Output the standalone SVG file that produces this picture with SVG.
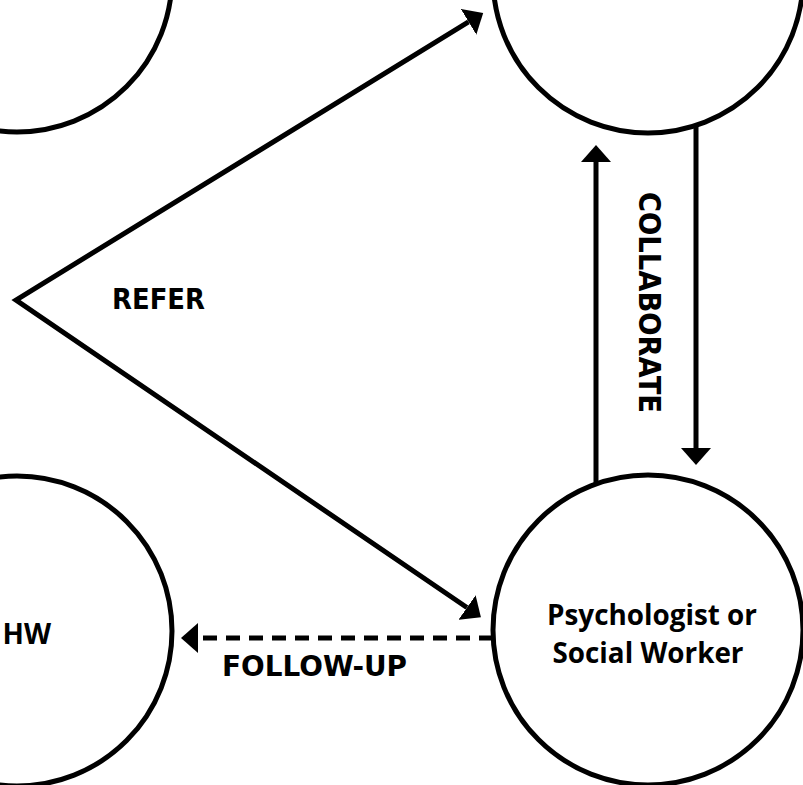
<svg xmlns="http://www.w3.org/2000/svg" width="803" height="785" viewBox="0 0 803 785">
<style>
.node{fill:#fff;stroke:#000;stroke-width:5}
.edge{fill:none;stroke:#000;stroke-width:5}
.dash{stroke-dasharray:14 9}
.lbl{font-family:"DejaVu Sans",sans-serif;font-weight:bold;font-size:28px;fill:#000}
.ntxt{font-family:"Open Sans","Liberation Sans",sans-serif;font-weight:bold;font-size:28px;fill:#000;text-anchor:middle}
</style>
<defs>
<marker id="ah" markerUnits="userSpaceOnUse" markerWidth="18" markerHeight="30" refX="0" refY="15" orient="auto" viewBox="0 0 18 30">
<path d="M0,0 L17,15 L0,30 Z" fill="#000"/>
</marker>
</defs>
<rect width="803" height="785" fill="#fff"/>
<g id="node-top-left"><circle class="node" cx="17" cy="-23" r="155"/></g>
<g id="node-top-right"><circle class="node" cx="648" cy="-22" r="155"/></g>
<g id="node-bottom-left"><circle class="node" cx="17" cy="631" r="155"/>
<text class="ntxt" x="51" y="644" style="text-anchor:end">HW</text></g>
<g id="node-bottom-right"><circle class="node" cx="648" cy="630" r="155"/>
<text class="ntxt" x="652" y="625" textLength="210" lengthAdjust="spacingAndGlyphs">Psychologist or</text>
<text class="ntxt" x="648" y="663" textLength="191" lengthAdjust="spacingAndGlyphs">Social Worker</text></g>
<g id="connectors">
<polyline class="edge" points="468.5,21.9 16,300 466.9,607.5" stroke-miterlimit="10"/>
<path class="edge" d="M468.5,21.9 L468.6,21.84" marker-end="url(#ah)"/>
<path class="edge" d="M466.9,607.5 L467,607.57" marker-end="url(#ah)"/>
<path class="edge" d="M596,484 L596,162" marker-end="url(#ah)"/>
<path class="edge" d="M696,125 L696,448" marker-end="url(#ah)"/>
<path class="edge dash" d="M493,638 L198,638" marker-end="url(#ah)"/>
</g>
<g id="labels">
<text class="lbl" x="112" y="309" textLength="93" lengthAdjust="spacingAndGlyphs">REFER</text>
<text class="lbl" x="222" y="676" textLength="185" lengthAdjust="spacingAndGlyphs">FOLLOW-UP</text>
<text class="lbl" transform="translate(639,192) rotate(90)" style="font-size:31px" textLength="221" lengthAdjust="spacingAndGlyphs">COLLABORATE</text>
</g>
</svg>
